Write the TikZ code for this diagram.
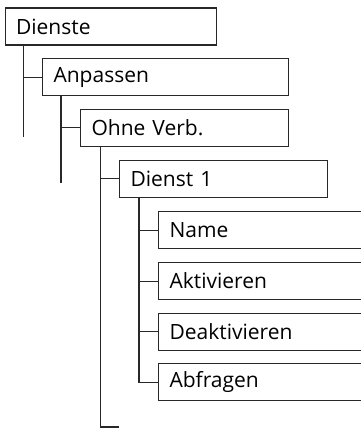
\documentclass[tikz,border=0pt]{standalone}
\usepackage{fontspec}
\setmainfont{Open Sans}
\usetikzlibrary{positioning, calc}
\usepackage{xcolor}
\definecolor{linhacinza}{RGB}{40, 40, 40}

\begin{document}
\begin{tikzpicture}[
    x=1pt, y=-1pt,
    every node/.style={font=\fontsize{21}{25}\selectfont},
    menubox/.style={
        draw=linhacinza,
        line width=1.1pt,
        rectangle,
        anchor=north west,
        minimum height=37pt,
        inner xsep=11pt,
        inner ysep=0pt,
        align=left
    },
    ramo/.style={draw=linhacinza, line width=1.1pt}
]

\useasboundingbox (0,0) rectangle (361,436);
\clip (0,0) rectangle (361,436);

% ------------------------------------------------
% Menu boxes
% ------------------------------------------------

\node[menubox, text width=189.5pt] (dienste) at (4.5,7.5)
{Dienste};

\node[menubox, text width=224pt] (anpassen) at (42,58)
{Anpassen};

\node[menubox, text width=186pt] (ohne) at (80,108.5)
{Ohne Verb.};

\node[menubox, text width=186pt] (dienst1) at (119,159.5)
{Dienst 1};

\node[menubox, text width=208pt] (name) at (158,211)
{Name};

\node[menubox, text width=208pt] (aktivieren) at (158,262)
{Aktivieren};

\node[menubox, text width=208pt] (deaktivieren) at (158,312.5)
{Deaktivieren};

\node[menubox, text width=208pt] (abfragen) at (158,363)
{Abfragen};

% ------------------------------------------------
% Tree lines
% ------------------------------------------------

\coordinate (endeDienste) at ($(dienste.south west)+(19.2,91)$);
\draw[ramo] ($(dienste.south west)+(19.2,0)$) -- (endeDienste);
\draw[ramo] (anpassen.west) -- (anpassen.west -| endeDienste);

\coordinate (endeAnpassen) at ($(anpassen.south west)+(19,87)$);
\draw[ramo] ($(anpassen.south west)+(19,0)$) -- (endeAnpassen);
\draw[ramo] (ohne.west) -- (ohne.west -| endeAnpassen);

\coordinate (endeOhne) at (119,427);
\draw[ramo] ($(ohne.south west)+(20.5,0)$) |- (endeOhne);
\draw[ramo] (dienst1.west) -- ++(-18.5,0);

\coordinate (stammDienst) at ($(dienst1.south west)+(20,0)$);
\draw[ramo] (stammDienst) |- (abfragen.west);
\draw[ramo] (name.west) -- (name.west -| stammDienst);
\draw[ramo] (aktivieren.west) -- (aktivieren.west -| stammDienst);
\draw[ramo] (deaktivieren.west) -- (deaktivieren.west -| stammDienst);

\end{tikzpicture}
\end{document}
